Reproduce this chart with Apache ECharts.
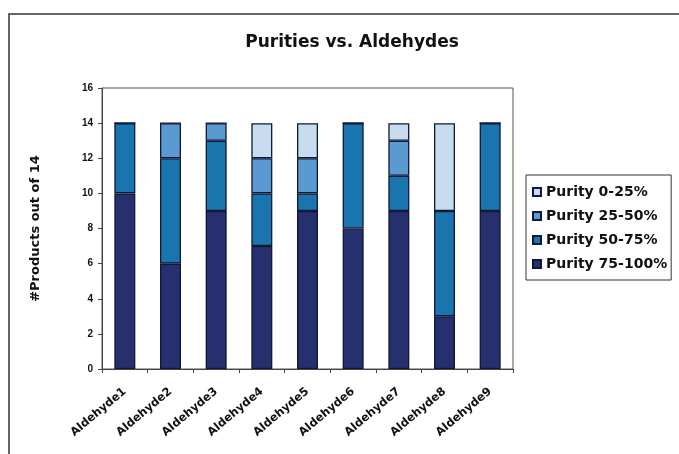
<!DOCTYPE html>
<html>
<head>
<meta charset="utf-8">
<script src="https://cdn.jsdelivr.net/npm/echarts@6/dist/echarts.min.js"></script>
<style>
html, body { margin: 0; padding: 0; background: #fff; }
#main { width: 679px; height: 454px; }
</style>
</head>
<body>
<div id="main"></div>
<script>
var categories = ['Aldehyde1', 'Aldehyde2', 'Aldehyde3', 'Aldehyde4', 'Aldehyde5', 'Aldehyde6', 'Aldehyde7', 'Aldehyde8', 'Aldehyde9'];
var purity75to100 = [10, 6, 9, 7, 9, 8, 9, 3, 9];
var purity50to75 = [4, 6, 4, 3, 1, 6, 2, 6, 5];
var purity25to50 = [0, 2, 1, 2, 2, 0, 2, 0, 0];
var purity0to25 = [0, 0, 0, 2, 2, 0, 1, 5, 0];

var myChart = echarts.init(document.getElementById('main'));

var font = 'DejaVu Sans';

function bar(name, data, color) {
    return {
        name: name,
        type: 'bar',
        stack: 'total',
        data: data,
        barWidth: 21,
        itemStyle: { color: color, borderColor: '#101838', borderWidth: 1.3 }
    };
}

var option = {
    backgroundColor: '#fff',
    animation: false,
    title: {
        text: 'Purities vs. Aldehydes',
        left: 347,
        textAlign: 'center',
        top: 29,
        textStyle: { fontFamily: font, fontSize: 17, fontWeight: 'bold', color: '#111' }
    },
    graphic: [
        { type: 'rect', shape: { x: 9, y: 14, width: 720, height: 520 },
          style: { fill: 'none', stroke: '#333', lineWidth: 1.5 } }
    ],
    legend: {
        orient: 'vertical',
        left: 526,
        top: 175,
        data: ['Purity 0-25%', 'Purity 25-50%', 'Purity 50-75%', 'Purity 75-100%'],
        icon: 'rect',
        itemWidth: 8,
        itemHeight: 8,
        itemGap: 10,
        padding: [10, 4, 9, 6],
        borderColor: '#333',
        borderWidth: 1,
        textStyle: { fontFamily: font, fontSize: 14, fontWeight: 'bold', color: '#111' }
    },
    grid: {
        left: 102,
        right: 166,
        top: 88,
        bottom: 85,
        show: true,
        borderColor: '#555',
        borderWidth: 1
    },
    xAxis: {
        type: 'category',
        data: categories,
        axisLine: { lineStyle: { color: '#444' } },
        axisTick: { show: true, length: 4, lineStyle: { color: '#444' } },
        axisLabel: {
            rotate: 40,
            margin: 21,
            fontFamily: font,
            fontSize: 11.5,
            fontWeight: 'bold',
            color: '#111'
        }
    },
    yAxis: {
        type: 'value',
        min: 0,
        max: 16,
        interval: 2,
        name: '#Products out of 14',
        nameLocation: 'middle',
        nameGap: 60,
        nameTextStyle: { fontFamily: font, fontSize: 13, fontWeight: 'bold', color: '#111' },
        splitLine: { show: false },
        axisLine: { show: true, lineStyle: { color: '#444' } },
        axisTick: { show: true, length: 4, lineStyle: { color: '#444' } },
        axisLabel: { fontFamily: 'Liberation Sans', fontSize: 10, fontWeight: 'bold', color: '#111', margin: 9 }
    },
    series: [
        bar('Purity 75-100%', purity75to100, '#27306e'),
        bar('Purity 50-75%', purity50to75, '#1a74ad'),
        bar('Purity 25-50%', purity25to50, '#5b9ad0'),
        bar('Purity 0-25%', purity0to25, '#c7dcef')
    ]
};

myChart.setOption(option);
</script>
</body>
</html>
